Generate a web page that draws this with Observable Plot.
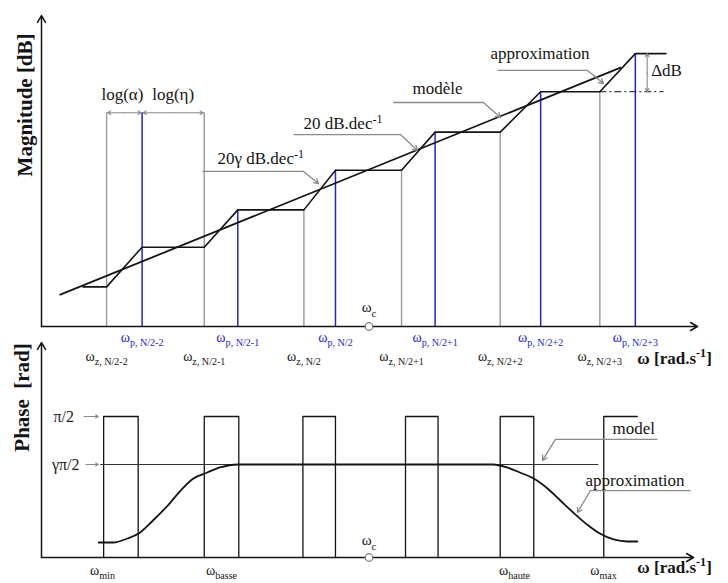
<!DOCTYPE html>
<html><head><meta charset="utf-8">
<script src="https://cdn.jsdelivr.net/npm/d3@7"></script>
<script src="https://cdn.jsdelivr.net/npm/@observablehq/plot@0.6"></script>
<style>
body{margin:0;background:#fff;}
#chart{position:relative;width:728px;height:583px;background:#fff;overflow:hidden;}
#chart svg{position:absolute;left:0;top:0;}
#chart svg text{font-family:'Liberation Serif','Times New Roman',serif;}
</style></head><body><div id="chart"></div>
<script>
// ===== Magnitude panel: x = log(ω) in decades from the axis origin, y = magnitude in dB =====
const zeros = [0.66, 1.65, 2.66, 3.65, 4.65, 5.66];          // ω_z
const poles = [1.02, 1.99, 2.98, 3.99, 5.06, 6.02];          // ω_p
const levels = [5.1, 10.2, 15.0, 20.1, 25.0, 30.2, 35.1];    // staircase plateaus (dB)
const stairStart = 0.42, stairEnd = 6.33;
const modelX = [0.19, 5.87];
const modelY = [4.1, 33.3];
const omegaC = 3.32;
const annotLevel = 27.5;
const zeroLabels = ["ω_{z, N/2-2}", "ω_{z, N/2-1}", "ω_{z, N/2}", "ω_{z, N/2+1}", "ω_{z, N/2+2}", "ω_{z, N/2+3}"];
const poleLabels = ["ω_{p, N/2-2}", "ω_{p, N/2-1}", "ω_{p, N/2}", "ω_{p, N/2+1}", "ω_{p, N/2+2}", "ω_{p, N/2+3}"];
const magNoteText = ["20γ dB.dec^{-1}", "20 dB.dec^{-1}", "modèle", "approximation"];
const magNoteX = [1.784, 2.656, 3.761, 4.551];
const magNoteY = [21.6, 26.1, 30.6, 35.1];
const magLeaderX1 = [1.632, 2.554, 3.568, 4.622];
const magLeaderX2 = [2.656, 3.639, 4.48, 5.535];
const magLeaderY = [19.94, 24.69, 28.81, 32.93];
const magArrowX = [2.808, 3.811, 4.653, 5.697];
const magArrowY = [18.39, 22.64, 26.88, 31.25];
const logLabels = ["log(α)", "log(η)"];
const deltaLabel = "ΔdB";
const deltaX = 6.14;

// ===== Phase panel: y = phase in rad =====
const halfPi = Math.PI / 2;
const gamma = 0.66;
const pulseStart = [0.63, 1.65, 2.65, 3.69, 4.65, 5.70];
const pulseEnd   = [0.98, 2.00, 2.98, 4.02, 4.99, 6.04];
const modelPhaseX = [0.60, 5.65];
const approxX = [0.58, 0.73, 0.87, 1.00, 1.13, 1.28, 1.41, 1.54, 1.68, 1.81, 1.99,
                 4.58, 4.72, 4.85, 4.99, 5.13, 5.26, 5.39, 5.53, 5.66, 5.80, 5.94, 6.04];
const approxY = [0.167, 0.167, 0.212, 0.279, 0.412, 0.579, 0.746, 0.880, 0.947, 1.003, 1.036,
                 1.036, 1.003, 0.947, 0.880, 0.769, 0.635, 0.501, 0.368, 0.267, 0.201, 0.178, 0.178];
const phaseTickX = [0.618, 1.825, 4.795, 5.697];
const phaseTickLabels = ["ω_{min}", "ω_{basse}", "ω_{haute}", "ω_{max}"];
const levelLabels = ["π/2", "γπ/2"];
const phaseNoteText = ["model", "approximation"];
const phaseNoteX = [5.788, 5.514];
const phaseNoteY = [1.437, 0.858];
const phaseLeaderX1 = [5.210, 5.565];
const phaseLeaderX2 = [6.244, 6.579];
const phaseLeaderY = [1.315, 0.746];
const phaseArrowX = [5.079, 5.433];
const phaseArrowY = [1.081, 0.501];

const SERIF = "'Liberation Serif','Times New Roman',serif";
const BLUE = "#2525c4", GRAY = "#9a9a9a", LEAD = "#8a8a8a", INK = "#141414";

// ---------- build tables ----------
const stair = [{x: stairStart, y: levels[0]}];
zeros.forEach((z, i) => { stair.push({x: z, y: levels[i]}); stair.push({x: poles[i], y: levels[i + 1]}); });
stair.push({x: stairEnd, y: levels[levels.length - 1]});
const zeroRules = zeros.map((z, i) => ({x: z, y2: i < 2 ? annotLevel : levels[i], label: zeroLabels[i]}));
const poleRules = poles.map((p, i) => ({x: p, y2: i < 1 ? annotLevel : levels[i + 1], label: poleLabels[i]}));
const model = modelX.map((x, i) => ({x, y: modelY[i]}));
const magNotes = magNoteText.map((t, i) => ({t, x: magNoteX[i], y: magNoteY[i], x1: magLeaderX1[i], x2: magLeaderX2[i], ly: magLeaderY[i], ax: magArrowX[i], ay: magArrowY[i]}));
function dbl(a, b) { const m = (a + b) / 2; return [{from: m, to: a}, {from: m, to: b}]; }
const logArrows = [...dbl(zeros[0], poles[0]), ...dbl(poles[0], zeros[1])];
const logText = [{t: logLabels[0], x: (zeros[0] + poles[0]) / 2 - 0.02}, {t: logLabels[1], x: (poles[0] + zeros[1]) / 2}];
const deltaArrows = dbl(levels[5], levels[6]);

const pulses = [];
pulseStart.forEach((s, i) => {
  const e = pulseEnd[i];
  const pts = [[s, 0], [s, halfPi], [e, halfPi]];
  if (i < pulseStart.length - 1) pts.push([e, 0]);
  pts.forEach(([x, y]) => pulses.push({x, y, z: i}));
});
const approx = approxX.map((x, i) => ({x, y: approxY[i]}));
const phaseLevels = [halfPi, gamma * halfPi];
const phaseNotes = phaseNoteText.map((t, i) => ({t, x: phaseNoteX[i], y: phaseNoteY[i], x1: phaseLeaderX1[i], x2: phaseLeaderX2[i], ly: phaseLeaderY[i], ax: phaseArrowX[i], ay: phaseArrowY[i]}));

const T = {fontFamily: SERIF};

// ---------- magnitude plot ----------
const magPlot = Plot.plot({
  width: 728, height: 583, marginLeft: 41, marginRight: 31, marginTop: 15, marginBottom: 257,
  x: {domain: [0, 6.65], axis: null}, y: {domain: [0, 40], axis: null},
  style: {background: "transparent", fontFamily: SERIF, overflow: "visible"},
  marks: [
    Plot.ruleX(zeroRules, {x: "x", y1: 0, y2: "y2", stroke: GRAY, strokeWidth: 1.4}),
    Plot.ruleX(poleRules, {x: "x", y1: 0, y2: "y2", stroke: BLUE, strokeWidth: 1.5}),
    Plot.ruleY([levels[5]], {x1: zeros[5], x2: 6.31, stroke: INK, strokeWidth: 1, strokeDasharray: "7,3,2,3"}),
    Plot.line(model, {x: "x", y: "y", stroke: INK, strokeWidth: 1.8}),
    Plot.line(stair, {x: "x", y: "y", stroke: INK, strokeWidth: 1.6}),
    Plot.link(magNotes, {x1: "x1", x2: "x2", y1: "ly", y2: "ly", stroke: LEAD, strokeWidth: 1.3}),
    Plot.arrow(magNotes, {x1: "x2", y1: "ly", x2: "ax", y2: "ay", stroke: LEAD, strokeWidth: 1.3, headLength: 6}),
    Plot.text(magNotes, {...T, x: "x", y: "y", text: "t", textAnchor: "start", fontSize: 17, fill: INK}),
    Plot.arrow(logArrows, {x1: "from", x2: "to", y1: annotLevel, y2: annotLevel, stroke: LEAD, strokeWidth: 1.1, headLength: 5, insetEnd: 1}),
    Plot.text(logText, {...T, x: "x", y: annotLevel + 2.3, text: "t", fontSize: 17, fill: INK}),
    Plot.arrow(deltaArrows, {x1: deltaX, x2: deltaX, y1: "from", y2: "to", stroke: LEAD, strokeWidth: 1.1, headLength: 5}),
    Plot.text([deltaLabel], {...T, x: deltaX + 0.04, y: (levels[5] + levels[6]) / 2 + 0.3, text: d => d, textAnchor: "start", fontSize: 17, fill: INK}),
    Plot.arrow([0], {x1: 0, y1: 0, x2: 6.65, y2: 0, stroke: INK, strokeWidth: 1.5, headLength: 8}),
    Plot.arrow([0], {x1: 0, y1: 0, x2: 0, y2: 40, stroke: INK, strokeWidth: 1.5, headLength: 8}),
    Plot.dot([omegaC], {x: d => d, y: 0, r: 3.8, fill: "white", stroke: "#777", strokeWidth: 1.2}),
    Plot.text(["ω_{c}"], {...T, x: omegaC, y: 2.45, text: d => d, fontSize: 15, fill: INK}),
    Plot.text(poleRules, {...T, x: "x", y: -1.4, text: "label", fontSize: 14, fill: BLUE}),
    Plot.text(zeroRules, {...T, x: "x", y: -3.85, text: "label", fontSize: 14, fill: INK}),
    Plot.text(["ω [rad.s^{-1}]"], {...T, x: 6.04, y: -4.1, text: d => d, textAnchor: "start", fontSize: 17, fontWeight: "bold", fill: INK}),
    Plot.text(["Magnitude [dB]"], {...T, x: -0.165, y: 28.5, text: d => d, rotate: -90, fontSize: 21, fontWeight: "bold", fill: INK})
  ]
});

// ---------- phase plot ----------
const phasePlot = Plot.plot({
  width: 728, height: 583, marginLeft: 41, marginRight: 31, marginTop: 342, marginBottom: 26,
  x: {domain: [0, 6.65], axis: null}, y: {domain: [0, 2.395], axis: null},
  style: {background: "transparent", fontFamily: SERIF, overflow: "visible"},
  marks: [
    Plot.line(pulses, {x: "x", y: "y", z: "z", stroke: INK, strokeWidth: 1.3}),
    Plot.ruleY([gamma * halfPi], {x1: modelPhaseX[0], x2: modelPhaseX[1], stroke: "#333", strokeWidth: 1.1}),
    Plot.line(approx, {x: "x", y: "y", stroke: INK, strokeWidth: 1.8, curve: "monotone-x"}),
    Plot.link(phaseNotes, {x1: "x1", x2: "x2", y1: "ly", y2: "ly", stroke: LEAD, strokeWidth: 1.3}),
    Plot.arrow(phaseNotes, {x1: "x1", y1: "ly", x2: "ax", y2: "ay", stroke: LEAD, strokeWidth: 1.3, headLength: 6}),
    Plot.text(phaseNotes, {...T, x: "x", y: "y", text: "t", textAnchor: "start", fontSize: 17, fill: INK}),
    Plot.text(levelLabels, {...T, x: (d, i) => [0.33, 0.385][i], y: (d, i) => phaseLevels[i], text: d => d, textAnchor: "end", fontSize: 16, fill: "#222"}),
    Plot.arrow(phaseLevels, {x1: (d, i) => [0.43, 0.45][i], x2: 0.575, y1: d => d, y2: d => d, stroke: LEAD, strokeWidth: 1.1, headLength: 4}),
    Plot.arrow([0], {x1: 0, y1: 0, x2: 6.61, y2: 0, stroke: INK, strokeWidth: 1.5, headLength: 8}),
    Plot.arrow([0], {x1: 0, y1: 0, x2: 0, y2: 2.395, stroke: INK, strokeWidth: 1.5, headLength: 8}),
    Plot.dot([omegaC], {x: d => d, y: 0, r: 3.8, fill: "white", stroke: "#777", strokeWidth: 1.2}),
    Plot.text(["ω_{c}"], {...T, x: omegaC, y: 0.19, text: d => d, fontSize: 15, fill: INK}),
    Plot.text(phaseTickLabels, {...T, x: (d, i) => phaseTickX[i], y: -0.14, text: d => d, fontSize: 14, fill: INK}),
    Plot.text(["ω [rad.s^{-1}]"], {...T, x: 6.04, y: -0.11, text: d => d, textAnchor: "start", fontSize: 17, fontWeight: "bold", fill: INK}),
    Plot.text(["Phase  [rad]"], {...T, x: -0.19, y: 1.783, text: d => d, rotate: -90, fontSize: 21, fontWeight: "bold", fill: INK})
  ]
});

const host = document.getElementById("chart");
host.appendChild(magPlot);
host.appendChild(phasePlot);
[magPlot, phasePlot].forEach(s => s.setAttribute("font-family", SERIF));

// turn _{...} / ^{...} into sub/superscript tspans
function enrich(svg) {
  const ns = "http://www.w3.org/2000/svg";
  svg.querySelectorAll("text").forEach(t => {
    const s = t.textContent;
    const m = s.match(/^(.*?)([_^])\{([^}]*)\}(.*)$/);
    if (!m) return;
    const fs = parseFloat(getComputedStyle(t).fontSize) || 14;
    const shift = m[2] === "_" ? 0.3 * fs : -0.38 * fs;
    t.textContent = m[1];
    const sub = document.createElementNS(ns, "tspan");
    sub.setAttribute("font-size", (fs * 0.72).toFixed(1));
    sub.setAttribute("dy", shift.toFixed(1));
    sub.textContent = m[3];
    t.appendChild(sub);
    if (m[4]) {
      const rest = document.createElementNS(ns, "tspan");
      rest.setAttribute("font-size", fs);
      rest.setAttribute("dy", (-shift).toFixed(1));
      rest.textContent = m[4];
      t.appendChild(rest);
    }
  });
}
enrich(magPlot);
enrich(phasePlot);
</script></body></html>
